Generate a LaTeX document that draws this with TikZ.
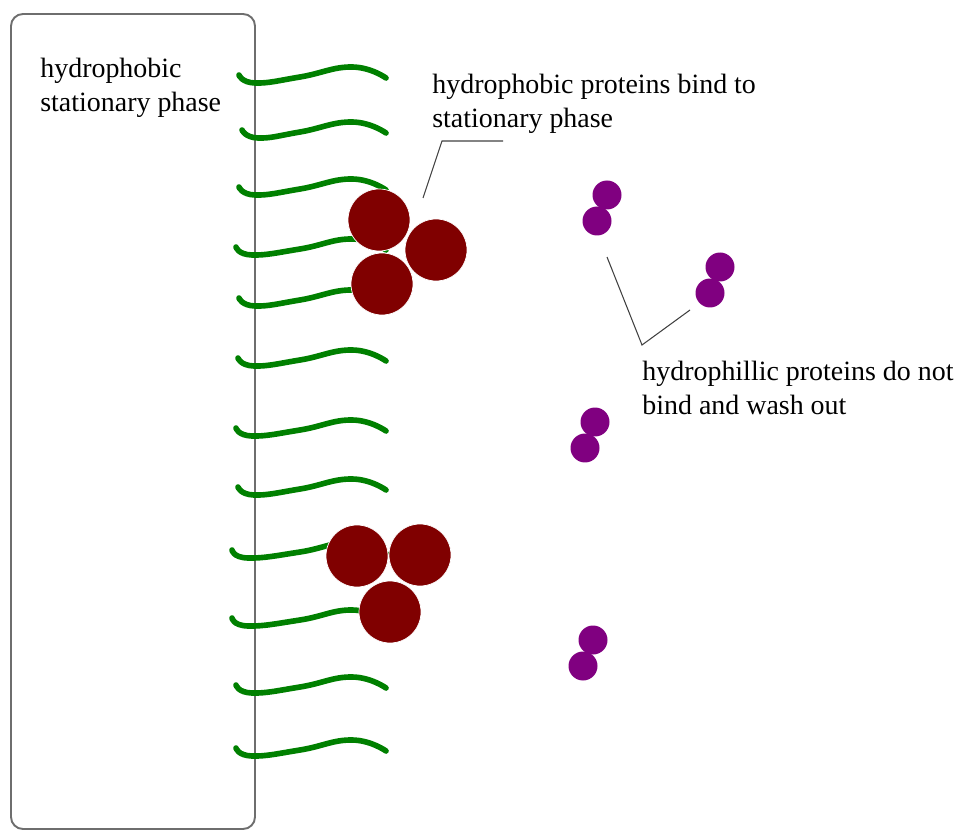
\documentclass[tikz,border=0pt]{standalone}
\usepackage{fontspec}
\setmainfont{Liberation Serif}
\usetikzlibrary{positioning}

\definecolor{tailgreen}{RGB}{0,128,0}
\definecolor{ballred}{RGB}{128,0,0}
\definecolor{ballpurple}{RGB}{128,0,128}
\definecolor{wallgray}{RGB}{110,110,110}

\tikzset{
  tail/.style={tailgreen, line width=3.2pt, line cap=round},
  bigball/.style={circle, fill=ballred, draw=white, line width=0.4pt,
                  inner sep=0pt, minimum size=1.24cm},
  smallball/.style={circle, fill=ballpurple, inner sep=0pt, minimum size=0.58cm},
  lbl/.style={anchor=base west, inner sep=0pt, align=left,
              font=\fontsize{15.9}{19.8}\selectfont},
  leader/.style={black!75, line width=0.6pt}
}

\begin{document}
\begin{tikzpicture}[x=0.02cm, y=-0.02cm]
  \useasboundingbox (0,0) rectangle (955,830);

  % Phase stationnaire
  \draw[wallgray, line width=1.1pt, rounded corners=0.24cm] (11,14) rectangle (255,829);
  \node[lbl] (phaselbl) at (40,112) {hydrophobic\\stationary phase};

  % Chaines hydrophobes
  \foreach \x/\y in {239/75, 242/130, 239/187, 236/247, 239/298, 238/358,
                     236/428, 238/487, 232/550, 232/618, 236/685, 236/748} {
    \draw[tail] plot[smooth, tension=0.8] coordinates
      {(\x,\y) ({\x+16},{\y+8}) (300,{\y+2}) (352,{\y-8}) (386,{\y+3})};
  }

  % Proteines hydrophobes
  \node[bigball] (r1) at (379,220) {};
  \node[bigball] (r2) at (436,250) {};
  \node[bigball] (r3) at (382,284) {};
  \node[bigball] (r4) at (357,556) {};
  \node[bigball] (r5) at (420,555) {};
  \node[bigball] (r6) at (390,612) {};

  % Proteines hydrophiles
  \foreach \n/\x/\y in {1/607/195, 2/720/267, 3/595/422, 4/593/640} {
    \node[smallball] (p\n a) at (\x,\y) {};
    \node[smallball] (p\n b) at ({\x-10},{\y+26}) {};
  }

  % Annotations
  \node[lbl] (bindlbl) at (432,128) {hydrophobic proteins bind to\\stationary phase};
  \node[lbl] (washlbl) at (642,415) {hydrophillic proteins do not\\bind and wash out};

  \coordinate (bindtip) at (423,198);
  \coordinate (bindknee) at (442,141);
  \coordinate (bindend) at (503,141);
  \draw[leader] (bindtip) -- (bindknee) -- (bindend);

  \coordinate (washtip1) at (607,257);
  \coordinate (washknee) at (642,345);
  \coordinate (washtip2) at (690,310);
  \draw[leader] (washtip1) -- (washknee) -- (washtip2);
\end{tikzpicture}
\end{document}
